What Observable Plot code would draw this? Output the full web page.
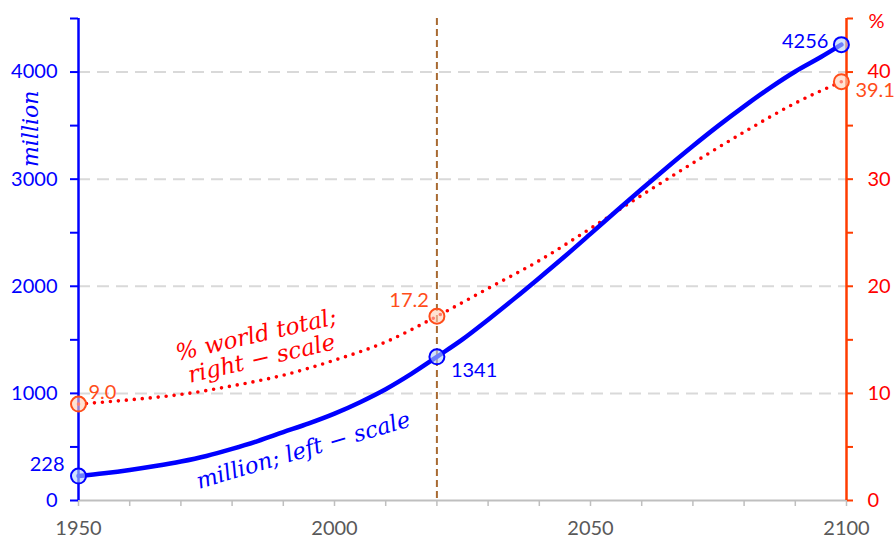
<!DOCTYPE html>
<html>
<head>
<meta charset="utf-8">
<script src="https://cdn.jsdelivr.net/npm/d3@7"></script>
<script src="https://cdn.jsdelivr.net/npm/@observablehq/plot@0.6"></script>
<style>
  html, body { margin: 0; padding: 0; background: #fff; }
  #chart svg { overflow: visible; display: block; }
</style>
</head>
<body>
<div id="chart"></div>
<script>
// Population (million), left scale
const popYears = [1950,1955,1960,1965,1970,1975,1980,1985,1990,1995,2000,2005,2010,2015,2020,2025,2030,2035,2040,2045,2050,2055,2060,2065,2070,2075,2080,2085,2090,2095,2099];
const popValues = [228,254,285,322,364,416,482,555,638,720,811,918,1039,1182,1341,1504,1688,1880,2078,2280,2489,2700,2908,3112,3310,3500,3680,3850,4005,4140,4256];
// Share of world total (%), right scale
const shareYears = [1950,1960,1970,1980,1990,2000,2010,2020,2030,2040,2050,2060,2070,2080,2090,2099];
const shareValues = [9.0,9.4,9.9,10.7,11.7,13.1,14.8,17.2,19.8,22.4,25.4,28.5,31.5,34.4,37.1,39.1];
// Highlighted years
const markYears = [1950, 2020, 2099];
const refYear = 2020;
// Axis ticks
const xTicks = d3.range(1950, 2101, 10);
const xLabels = [1950, 2000, 2050, 2100];
const leftTicks = d3.range(0, 4501, 500);
const leftLabels = [0, 1000, 2000, 3000, 4000];
const rightFactor = 100; // 1% on right scale = 100 million on left scale

const pop = popYears.map((y, i) => ({year: y, value: popValues[i]}));
const share = shareYears.map((y, i) => ({year: y, value: shareValues[i], scaled: shareValues[i] * rightFactor}));
const popMarks = pop.filter(d => markYears.includes(d.year));
const shareMarks = share.filter(d => markYears.includes(d.year));

const BLUE = "#0000ff";
const RED = "#ff0000";
const ORANGE = "#ff4d1a";
const numFont = "Lato, 'Open Sans', sans-serif";
const mathFont = "'DejaVu Serif', serif";

const chart = Plot.plot({
  width: 896,
  height: 545,
  marginLeft: 78,
  marginRight: 50,
  marginTop: 18,
  marginBottom: 45,
  x: {domain: [1950, 2100], label: null},
  y: {domain: [0, 4500], label: null},
  style: {fontFamily: numFont, fontSize: "20px", background: "#fff", overflow: "visible"},
  marks: [
    Plot.gridY(leftLabels.filter(d => d > 0), {stroke: "#d9d9d9", strokeOpacity: 1, strokeWidth: 2, strokeDasharray: "12,7"}),
    Plot.ruleX([refYear], {stroke: "#a86a32", strokeWidth: 2, strokeDasharray: "7,4"}),
    Plot.ruleY([0], {stroke: "#bfbfbf", strokeWidth: 2}),
    Plot.axisX({ticks: xTicks, tickFormat: d => xLabels.includes(d) ? String(d) : "", tickSize: 6, tickPadding: 14, label: null,
      stroke: "#bfbfbf", fill: "#595959", fontSize: 20, strokeWidth: 1.5}),
    Plot.axisY({anchor: "left", ticks: leftTicks, tickFormat: d => leftLabels.includes(d) ? String(d) : "", label: null,
      tickSize: 8, tickPadding: 13, stroke: BLUE, fill: BLUE, fontSize: 20, strokeWidth: 2}),
    Plot.axisY({anchor: "right", ticks: leftTicks, tickFormat: d => leftLabels.includes(d) ? String(d / rightFactor) : "", label: null,
      tickSize: 6, tickPadding: 15, stroke: "#ff3c00", fill: RED, fontSize: 20, strokeWidth: 2}),
    Plot.ruleX([1950], {stroke: BLUE, strokeWidth: 2.5}),
    Plot.ruleX([2100], {stroke: "#ff3c00", strokeWidth: 2.5}),
    // series
    Plot.line(share, {x: "year", y: "scaled", stroke: RED, strokeWidth: 3.6, strokeDasharray: "0,8", strokeLinecap: "round", curve: "monotone-x"}),
    Plot.line(pop, {x: "year", y: "value", stroke: BLUE, strokeWidth: 4.5, curve: "monotone-x"}),
    // markers
    Plot.dot(popMarks, {x: "year", y: "value", r: 7.5, stroke: BLUE, strokeWidth: 2, fill: "#b3d1fa", fillOpacity: 0.6}),
    Plot.dot(shareMarks, {x: "year", y: "scaled", r: 7.5, stroke: ORANGE, strokeWidth: 2, fill: "#ffd0b8", fillOpacity: 0.6}),
    // value labels
    Plot.text(popMarks.filter(d => d.year === 1950), {x: "year", y: "value", text: d => String(d.value), textAnchor: "end", dx: -14, dy: -11, fill: BLUE, fontSize: 20}),
    Plot.text(popMarks.filter(d => d.year === 2020), {x: "year", y: "value", text: d => String(d.value), textAnchor: "start", dx: 14, dy: 14, fill: BLUE, fontSize: 20}),
    Plot.text(popMarks.filter(d => d.year === 2099), {x: "year", y: "value", text: d => String(d.value), textAnchor: "end", dx: -13, dy: -3, fill: BLUE, fontSize: 20}),
    Plot.text(shareMarks.filter(d => d.year === 1950), {x: "year", y: "scaled", text: d => d.value.toFixed(1), textAnchor: "start", dx: 10, dy: -12, fill: ORANGE, fontSize: 20}),
    Plot.text(shareMarks.filter(d => d.year === 2020), {x: "year", y: "scaled", text: d => d.value.toFixed(1), textAnchor: "end", dx: -8, dy: -16, fill: ORANGE, fontSize: 20}),
    Plot.text(shareMarks.filter(d => d.year === 2099), {x: "year", y: "scaled", text: d => d.value.toFixed(1), textAnchor: "start", dx: 14, dy: 9, fill: ORANGE, fontSize: 20}),
    // axis titles
    Plot.text(["million"], {x: 1950, y: 3470, dx: -48, rotate: -90, text: d => d, fill: BLUE, fontSize: 22, fontStyle: "italic", fontFamily: mathFont}),
    Plot.text(["%"], {x: 2100, y: 4500, dx: 22, dy: 3, text: d => d, fill: RED, fontSize: 20, textAnchor: "start"}),
    // series annotations
    Plot.text(["% world total;\nright \u2212 scale"], {x: 1985.2, y: 1438, text: d => d, rotate: -13, fill: RED, fontSize: 23, fontStyle: "italic", fontFamily: mathFont, lineHeight: 1.05}),
    Plot.text(["million; left \u2212 scale"], {x: 1993.9, y: 467, text: d => d, rotate: -16.5, fill: BLUE, fontSize: 22.5, fontStyle: "italic", fontFamily: mathFont})
  ]
});
document.getElementById("chart").appendChild(chart);
</script>
</body>
</html>
